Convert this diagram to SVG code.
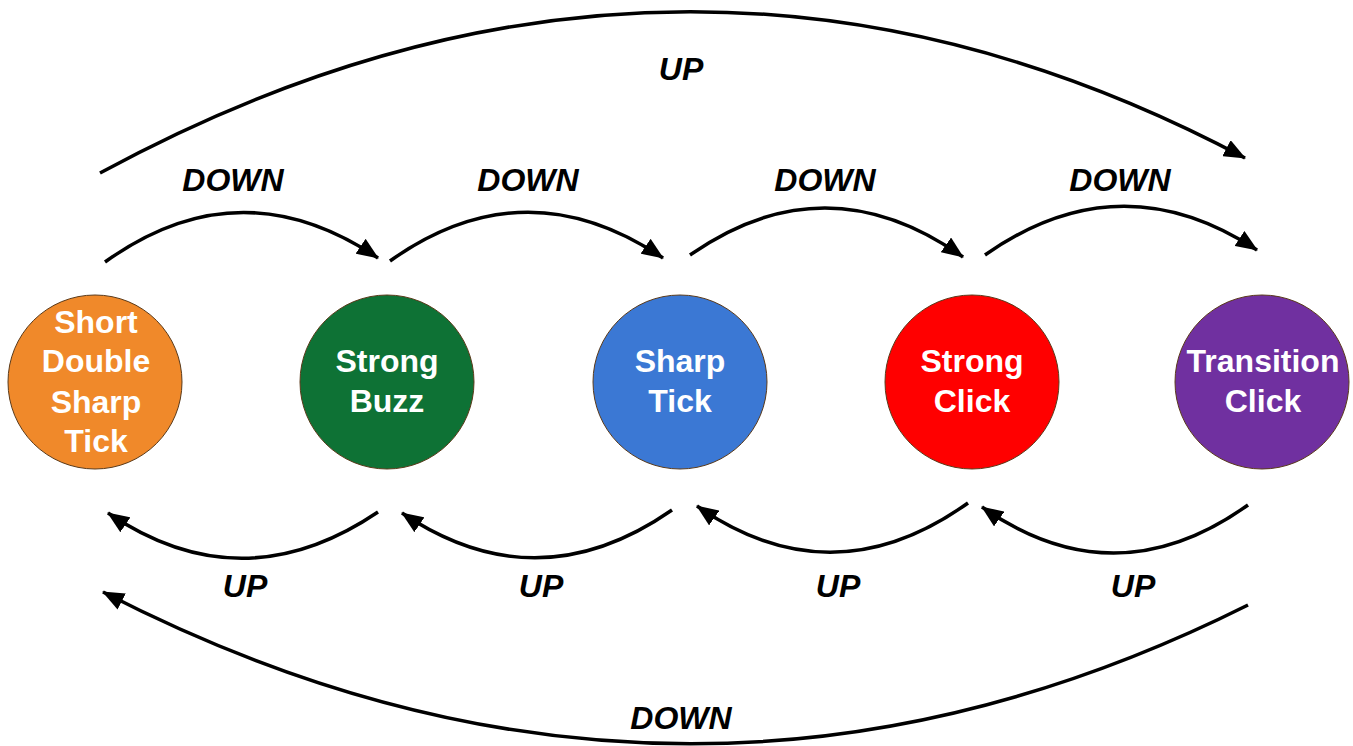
<svg xmlns="http://www.w3.org/2000/svg" width="1353" height="746" viewBox="0 0 1353 746">
<style>
.node circle{stroke:#5a3a1a;stroke-width:1}
.node text{font-family:"Liberation Sans",Arial,sans-serif;font-weight:bold;font-size:32px;fill:#fff;text-anchor:middle}
.lbl{font-family:"Liberation Sans",Arial,sans-serif;font-weight:bold;font-style:italic;font-size:32px;fill:#000;text-anchor:middle}
.conn path{fill:none;stroke:#000;stroke-width:3.5;marker-end:url(#ah)}
</style>
<defs>
<marker id="ah" markerUnits="userSpaceOnUse" markerWidth="22" markerHeight="18" viewBox="0 0 22 18" refX="21" refY="9" orient="auto">
<path d="M0,0 L22,9 L0,18 Z" fill="#000"/>
</marker>
</defs>
<rect width="1353" height="746" fill="#fff"/>
<g id="connectors" class="conn">
<path d="M105,262 Q240,165 378,258"/>
<path d="M390,261 Q525,165 663,258"/>
<path d="M690,255 Q826,160 963,257"/>
<path d="M985,255 Q1120,160 1257,250"/>
<path d="M378,512 Q242,604 108,513"/>
<path d="M672,510 Q537,604 402,513"/>
<path d="M968,503 Q832,600 697,506"/>
<path d="M1248,505 Q1115,600 982,507"/>
<path d="M100,173 Q680,-142 1245,158"/>
<path d="M1248,605 Q680,889 103,592"/>
</g>
<g id="labels">
<text class="lbl" x="233" y="191">DOWN</text>
<text class="lbl" x="528" y="191">DOWN</text>
<text class="lbl" x="825" y="191">DOWN</text>
<text class="lbl" x="1120" y="191">DOWN</text>
<text class="lbl" x="245" y="597">UP</text>
<text class="lbl" x="541" y="597">UP</text>
<text class="lbl" x="838" y="597">UP</text>
<text class="lbl" x="1133" y="597">UP</text>
<text class="lbl" x="681" y="80">UP</text>
<text class="lbl" x="681" y="729">DOWN</text>
</g>
<g id="n1" class="node">
<circle cx="95" cy="382" r="87" fill="#F0892A"/>
<text x="96" y="333">Short</text>
<text x="96" y="372">Double</text>
<text x="96" y="413">Sharp</text>
<text x="96" y="452">Tick</text>
</g>
<g id="n2" class="node">
<circle cx="387" cy="382" r="87" fill="#0E7235"/>
<text x="387" y="372">Strong</text>
<text x="387" y="412">Buzz</text>
</g>
<g id="n3" class="node">
<circle cx="680" cy="382" r="87" fill="#3B78D4"/>
<text x="680" y="372">Sharp</text>
<text x="680" y="412">Tick</text>
</g>
<g id="n4" class="node">
<circle cx="972" cy="382" r="87" fill="#FF0000"/>
<text x="972" y="372">Strong</text>
<text x="972" y="412">Click</text>
</g>
<g id="n5" class="node">
<circle cx="1262" cy="382" r="87" fill="#7030A0"/>
<text x="1263" y="372">Transition</text>
<text x="1263" y="412">Click</text>
</g>
</svg>
